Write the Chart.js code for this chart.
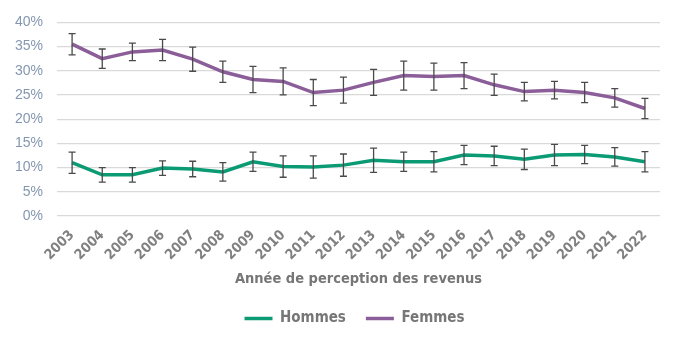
<!DOCTYPE html>
<html>
<head>
<meta charset="utf-8">
<script src="https://cdn.jsdelivr.net/npm/chart.js@4.4.1/dist/chart.umd.min.js"></script>
<style>
  html, body { margin: 0; padding: 0; background: #ffffff; }
  #wrap { width: 700px; height: 354px; }
</style>
</head>
<body>
<div id="wrap"><canvas id="chart"></canvas></div>
<script>
// Données (en %)
const years = ['2003', '2004', '2005', '2006', '2007', '2008', '2009', '2010', '2011', '2012',
               '2013', '2014', '2015', '2016', '2017', '2018', '2019', '2020', '2021', '2022'];
const hommes = [11.0, 8.5, 8.5, 9.9, 9.7, 9.1, 11.2, 10.2, 10.1, 10.5,
                11.5, 11.2, 11.2, 12.6, 12.4, 11.7, 12.6, 12.7, 12.2, 11.2];
const femmes = [35.5, 32.5, 33.9, 34.3, 32.4, 29.8, 28.2, 27.8, 25.5, 26.0,
                27.6, 29.0, 28.8, 29.0, 27.1, 25.7, 26.0, 25.5, 24.4, 22.2];
// demi-largeur des intervalles de confiance
const hommesErr = [2.2, 1.5, 1.5, 1.5, 1.6, 1.9, 2.0, 2.2, 2.3, 2.3,
                   2.5, 2.0, 2.1, 2.0, 2.0, 2.1, 2.2, 1.9, 1.9, 2.1];
const femmesErr = [2.2, 2.0, 1.8, 2.2, 2.5, 2.2, 2.7, 2.8, 2.7, 2.7,
                   2.7, 3.0, 2.8, 2.7, 2.2, 1.9, 1.8, 2.1, 1.9, 2.1];
const yTicks = [0, 5, 10, 15, 20, 25, 30, 35, 40];

const cond = "'DejaVu Sans Condensed', 'DejaVu Sans', sans-serif";

// Barres d'erreur dessinées via les échelles
const errorBars = {
    id: 'errorBars',
    afterDatasetsDraw(chart) {
        const ctx = chart.ctx;
        const x = chart.scales.x;
        const y = chart.scales.y;
        const errs = [hommesErr, femmesErr];
        ctx.save();
        ctx.strokeStyle = '#4a4a4a';
        ctx.lineWidth = 1.3;
        chart.data.datasets.forEach((ds, i) => {
            ds.data.forEach((v, j) => {
                const px = x.getPixelForValue(j);
                const top = y.getPixelForValue(v + errs[i][j]);
                const bot = y.getPixelForValue(v - errs[i][j]);
                ctx.beginPath();
                ctx.moveTo(px, top); ctx.lineTo(px, bot);
                ctx.moveTo(px - 3.5, top); ctx.lineTo(px + 3.5, top);
                ctx.moveTo(px - 3.5, bot); ctx.lineTo(px + 3.5, bot);
                ctx.stroke();
            });
        });
        ctx.restore();
    }
};

// Légende un peu décalée vers la droite, comme sur l'original
const legendShift = {
    id: 'legendShift',
    afterLayout(chart) {
        chart.legend.left += 24;
        chart.legend.right += 24;
    }
};

new Chart(document.getElementById('chart'), {
    type: 'line',
    data: {
        labels: years,
        datasets: [
            {
                label: 'Hommes',
                data: hommes,
                borderColor: '#0a9b74',
                backgroundColor: '#0a9b74',
                borderWidth: 3.5,
                pointRadius: 0,
                tension: 0
            },
            {
                label: 'Femmes',
                data: femmes,
                borderColor: '#8b5e99',
                backgroundColor: '#8b5e99',
                borderWidth: 3.5,
                pointRadius: 0,
                tension: 0
            }
        ]
    },
    options: {
        responsive: true,
        maintainAspectRatio: false,
        animation: false,
        layout: { padding: { left: 1, right: 40, top: 8, bottom: 18 } },
        plugins: {
            legend: {
                position: 'bottom',
                labels: {
                    usePointStyle: true,
                    pointStyle: 'line',
                    pointStyleWidth: 28,
                    padding: 20,
                    color: '#767676',
                    font: { family: cond, size: 15, weight: 'bold' }
                }
            },
            tooltip: { enabled: false }
        },
        scales: {
            y: {
                min: 0,
                max: 40,
                afterBuildTicks(axis) { axis.ticks = yTicks.map(v => ({ value: v })); },
                grid: { color: '#d9d9d9', lineWidth: 1.3, drawTicks: false },
                border: { display: false },
                ticks: {
                    padding: 14,
                    color: '#8497b0',
                    font: { family: "'Liberation Sans', Arial, sans-serif", size: 14 },
                    callback: v => v + '%'
                }
            },
            x: {
                offset: true,
                grid: { display: false },
                border: { display: false },
                ticks: {
                    maxRotation: 45,
                    minRotation: 45,
                    padding: 3,
                    color: '#808080',
                    font: { family: cond, size: 14, weight: 'bold' }
                },
                title: {
                    display: true,
                    text: 'Année de perception des revenus',
                    color: '#767676',
                    padding: { top: 4, bottom: 3 },
                    font: { family: cond, size: 14.5, weight: 'bold' }
                }
            }
        }
    },
    plugins: [errorBars, legendShift]
});
</script>
</body>
</html>
